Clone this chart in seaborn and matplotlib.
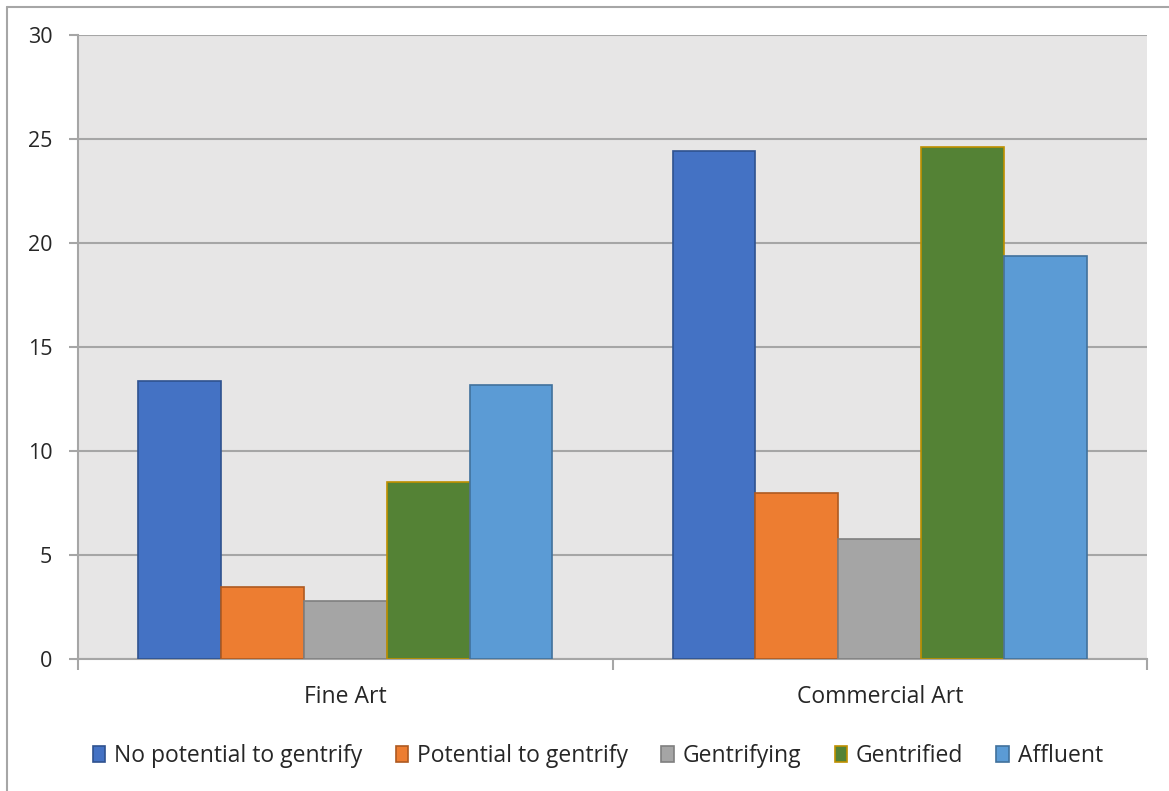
import matplotlib
matplotlib.use("Agg")
import matplotlib.pyplot as plt
import seaborn as sns
import pandas as pd
from matplotlib.patches import Patch
from matplotlib.lines import Line2D

categories = ["Fine Art", "Commercial Art"]
series = ["No potential to gentrify", "Potential to gentrify", "Gentrifying", "Gentrified", "Affluent"]
no_potential = [13.38, 24.41]
potential = [3.47, 7.99]
gentrifying = [2.80, 5.79]
gentrified = [8.52, 24.60]
affluent = [13.18, 19.37]
y_ticks = [0, 5, 10, 15, 20, 25, 30]

fill_colors = ["#4472C4", "#ED7D31", "#A5A5A5", "#548235", "#5B9BD5"]
edge_colors = ["#2F528F", "#AE5A21", "#7F7F7F", "#BF9000", "#41719C"]

values = [no_potential, potential, gentrifying, gentrified, affluent]
rows = []
for s, vals in zip(series, values):
    for c, v in zip(categories, vals):
        rows.append({"category": c, "series": s, "value": v})
df = pd.DataFrame(rows)

sns.set_theme(style="white")
plt.rcParams["font.family"] = ["Open Sans", "DejaVu Sans"]

FS = 15.5
FS2 = 16.5
TXT = "#262626"

fig = plt.figure(figsize=(11.69, 7.91), dpi=100)
ax = fig.add_axes([78/1169, 1-659/791, (1147-78)/1169, (659-35)/791])

sns.barplot(data=df, x="category", y="value", hue="series", order=categories,
            hue_order=series, palette=fill_colors, width=0.775, gap=0,
            saturation=1, ax=ax, legend=False, zorder=3)

for cont, ec in zip(ax.containers, edge_colors):
    for p in cont:
        p.set_edgecolor(ec)
        p.set_linewidth(1.2)

ax.set_facecolor("#E7E6E6")
ax.set_xlim(-0.5, 1.5)
ax.set_ylim(0, 30)
ax.set_yticks(y_ticks)
ax.set_yticklabels([str(t) for t in y_ticks])
ax.set_axisbelow(True)
ax.yaxis.grid(True, color="#A6A6A6", linewidth=1.5)
ax.xaxis.grid(False)
ax.set_xlabel("")
ax.set_ylabel("")

for side in ["top", "right"]:
    ax.spines[side].set_visible(False)
ax.spines["left"].set_color("#A6A6A6")
ax.spines["left"].set_linewidth(1.5)
ax.spines["bottom"].set_color("#A6A6A6")
ax.spines["bottom"].set_linewidth(1.5)

ax.tick_params(axis="y", which="major", left=True, length=6.5, width=1.5, color="#A6A6A6",
               labelsize=FS, labelcolor=TXT, pad=12)
ax.tick_params(axis="x", which="major", bottom=False, length=0, labelsize=FS2,
               labelcolor=TXT, pad=19)
ax.set_xticks([-0.5, 0.5, 1.5], minor=True)
ax.tick_params(axis="x", which="minor", bottom=True, length=8, width=1.5, color="#A6A6A6")

handles = [Patch(facecolor=fc, edgecolor=ec, linewidth=1.2, label=s)
           for s, fc, ec in zip(series, fill_colors, edge_colors)]
leg = fig.legend(handles=handles, loc="center", bbox_to_anchor=(598/1169, 1-756/791),
                 ncol=5, frameon=False, fontsize=FS2, handlelength=0.53, handleheight=0.75,
                 handletextpad=0.4, columnspacing=1.45, borderaxespad=0)
for t in leg.get_texts():
    t.set_color(TXT)

fig.add_artist(Line2D([7/1169, 7/1169], [0, 1-7/791], transform=fig.transFigure,
                      color="#A6A6A6", linewidth=1.5))
fig.add_artist(Line2D([7/1169, 1], [1-7/791, 1-7/791], transform=fig.transFigure,
                      color="#A6A6A6", linewidth=1.5))

fig.savefig("out.png", dpi=100)
